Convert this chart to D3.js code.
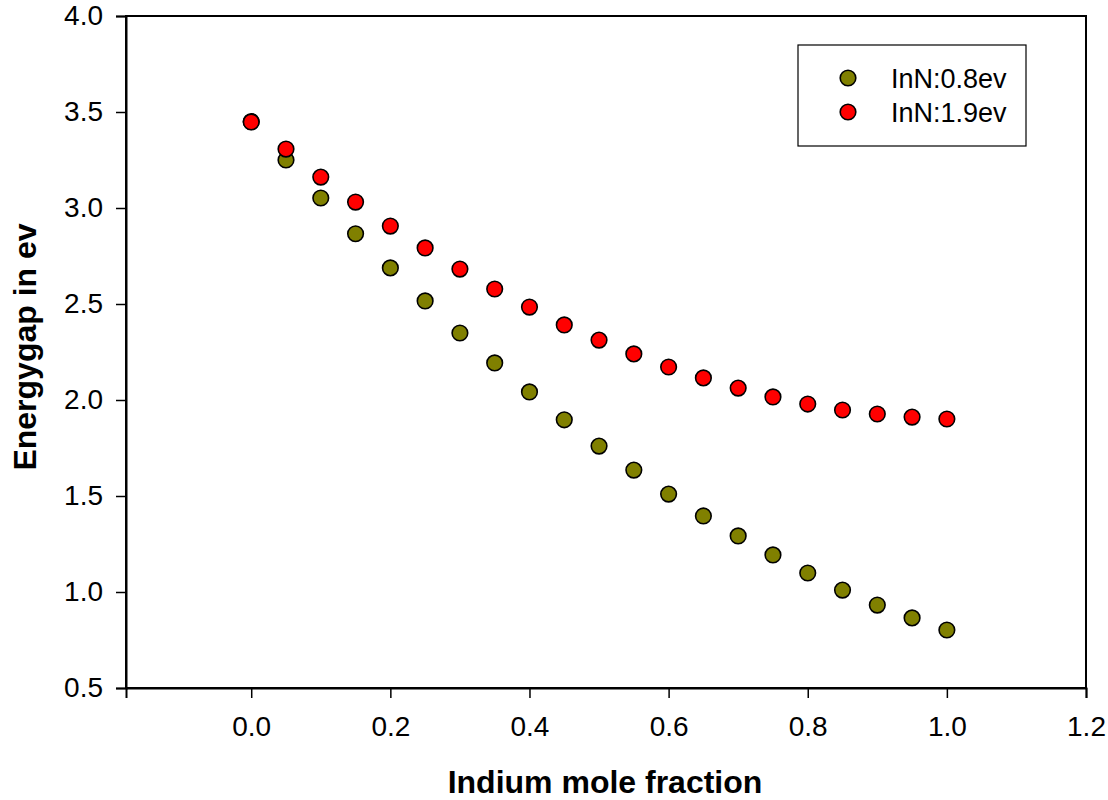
<!DOCTYPE html>
<html>
<head>
<meta charset="utf-8">
<script src="https://d3js.org/d3.v7.min.js"></script>
<style>
  body { margin: 0; background: #fff; }
  svg { display: block; }
  text { font-family: "Liberation Sans", Arial, sans-serif; fill: #000; }
</style>
</head>
<body>
<svg id="chart" width="1108" height="800"></svg>
<script>
// Data
const fraction = [0.0, 0.05, 0.10, 0.15, 0.20, 0.25, 0.30, 0.35, 0.40, 0.45, 0.50,
                  0.55, 0.60, 0.65, 0.70, 0.75, 0.80, 0.85, 0.90, 0.95, 1.0];
const gapInN08 = [3.45, 3.25, 3.052, 2.866, 2.688, 2.516, 2.349, 2.193, 2.042, 1.897, 1.760,
                  1.635, 1.510, 1.396, 1.292, 1.193, 1.099, 1.010, 0.932, 0.865, 0.802];
const gapInN19 = [3.448, 3.307, 3.161, 3.031, 2.906, 2.792, 2.682, 2.578, 2.484, 2.391, 2.312,
                  2.240, 2.172, 2.115, 2.062, 2.016, 1.979, 1.948, 1.927, 1.911, 1.901];
const seriesNames = ["InN:0.8ev", "InN:1.9ev"];
const seriesColors = ["#808000", "#ff0000"];
const xTicks = [0.0, 0.2, 0.4, 0.6, 0.8, 1.0, 1.2];
const yTicks = [0.5, 1.0, 1.5, 2.0, 2.5, 3.0, 3.5, 4.0];
const xDomain = [-0.18, 1.2];
const yDomain = [0.5, 4.0];

const svg = d3.select("#chart");
const W = 1108, H = 800;
const margin = { left: 126, right: 22, top: 16, bottom: 112 };
const iw = W - margin.left - margin.right;
const ih = H - margin.top - margin.bottom;

const x = d3.scaleLinear().domain(xDomain).range([0, iw]);
const y = d3.scaleLinear().domain(yDomain).range([ih, 0]);

const g = svg.append("g").attr("transform", `translate(${margin.left},${margin.top})`);

// frame
g.append("rect").attr("x", 0).attr("y", 0).attr("width", iw).attr("height", ih)
  .attr("fill", "none").attr("stroke", "#000").attr("stroke-width", 2);

const xAxis = g.append("g").attr("transform", `translate(0,${ih})`)
  .call(d3.axisBottom(x).tickValues(xTicks).tickFormat(d3.format(".1f")).tickSize(10).tickPadding(18));
const yAxis = g.append("g")
  .call(d3.axisLeft(y).tickValues(yTicks).tickFormat(d3.format(".1f")).tickSize(10).tickPadding(13));
[xAxis, yAxis].forEach(a => {
  a.select(".domain").attr("stroke-width", 2);
  a.selectAll(".tick line").attr("stroke-width", 1.5);
  a.selectAll(".tick text").attr("font-size", 28).attr("font-family", "Liberation Sans, Arial, sans-serif");
});

// points
const series = [gapInN08, gapInN19];
series.forEach((vals, si) => {
  g.append("g").selectAll("circle").data(fraction.map((f, i) => [f, vals[i]]))
    .join("circle")
    .attr("cx", d => x(d[0])).attr("cy", d => y(d[1]))
    .attr("r", 7.8)
    .attr("fill", seriesColors[si]).attr("stroke", "#000").attr("stroke-width", 1.6);
});

// axis titles
svg.append("text").attr("x", 605).attr("y", 793)
  .attr("text-anchor", "middle").attr("font-size", 32).attr("font-weight", "bold")
  .text("Indium mole fraction");
svg.append("text").attr("transform", `translate(36,347) rotate(-90)`)
  .attr("text-anchor", "middle").attr("font-size", 32).attr("font-weight", "bold")
  .text("Energygap in ev");

// legend
const lg = svg.append("g");
lg.append("rect").attr("x", 798).attr("y", 45).attr("width", 228).attr("height", 101)
  .attr("fill", "#fff").attr("stroke", "#000").attr("stroke-width", 1.2);
seriesNames.forEach((name, i) => {
  const cy = 78 + i * 34;
  lg.append("circle").attr("cx", 848).attr("cy", cy).attr("r", 7.8)
    .attr("fill", seriesColors[i]).attr("stroke", "#000").attr("stroke-width", 1.6);
  lg.append("text").attr("x", 891).attr("y", cy).attr("dy", "0.36em")
    .attr("font-size", 27).text(name);
});
</script>
</body>
</html>
